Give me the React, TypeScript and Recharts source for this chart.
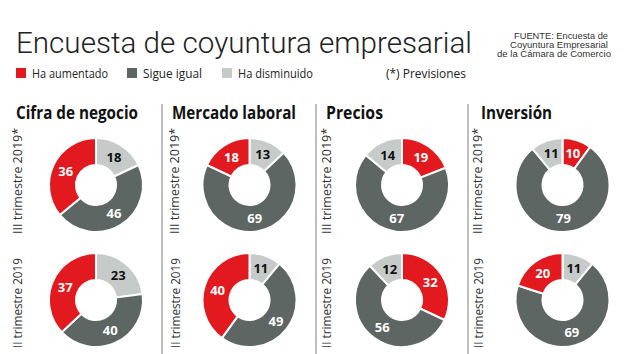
import { PieChart, Pie, Cell } from "recharts";

// Categories
const segments = ["Ha aumentado", "Sigue igual", "Ha disminuido"];
const columns = ["Cifra de negocio", "Mercado laboral", "Precios", "Inversión"];
const rows = ["III trimestre 2019*", "II trimestre 2019"];

// III trimestre 2019* (previsiones)
const aumentadoQ3 = [36, 18, 19, 10];
const igualQ3 = [46, 69, 67, 79];
const disminuidoQ3 = [18, 13, 14, 11];
// red slice starts at 12 o'clock?
const redFirstQ3 = [false, false, true, true];

// II trimestre 2019
const aumentadoQ2 = [37, 40, 32, 20];
const igualQ2 = [40, 49, 56, 69];
const disminuidoQ2 = [23, 11, 12, 11];
const redFirstQ2 = [false, false, true, false];

const COLORS: Record<string, string> = {
	"Ha aumentado": "#e2191e",
	"Sigue igual": "#5e6664",
	"Ha disminuido": "#c6cbc9",
};
const LABEL_COLORS: Record<string, string> = {
	"Ha aumentado": "#ffffff",
	"Sigue igual": "#ffffff",
	"Ha disminuido": "#111111",
};

const COL_X = [96, 249.5, 402, 562.5];
const ROW_Y = [185, 300];
const INNER = 20;
const OUTER = 47;
const RADIAN = Math.PI / 180;

type Slice = { name: string; value: number };

function buildSlices(up: number, same: number, down: number, redFirst: boolean): Slice[] {
	const red = { name: segments[0], value: up };
	const dark = { name: segments[1], value: same };
	const light = { name: segments[2], value: down };
	return redFirst ? [red, dark, light] : [light, dark, red];
}

const donuts = [0, 1].flatMap((r) =>
	columns.map((_, c) => ({
		key: `${r}-${c}`,
		cx: COL_X[c],
		cy: ROW_Y[r],
		data:
			r === 0
				? buildSlices(aumentadoQ3[c], igualQ3[c], disminuidoQ3[c], redFirstQ3[c])
				: buildSlices(aumentadoQ2[c], igualQ2[c], disminuidoQ2[c], redFirstQ2[c]),
	})),
);

function renderLabel(props: any) {
	const { cx, cy, midAngle, innerRadius, outerRadius, value, name } = props;
	const r = (innerRadius + outerRadius) / 2;
	const x = cx + r * Math.cos(-midAngle * RADIAN);
	const y = cy + r * Math.sin(-midAngle * RADIAN);
	return (
		<text
			x={x}
			y={y}
			textAnchor="middle"
			dominantBaseline="central"
			fill={LABEL_COLORS[name] ?? "#fff"}
			fontSize={13}
			fontWeight={700}
			fontFamily="'Open Sans', sans-serif"
		>
			{value}
		</text>
	);
}

const legendItems = [
	{ x: 16, tx: 32, len: 76 },
	{ x: 127, tx: 143, len: 59 },
	{ x: 222, tx: 238, len: 75 },
];
const titleX = [16, 172, 326, 481];
const titleLen = [122, 124, 57, 71];
const rowLabelX = [[18, 175, 327, 478], [18, 176, 327, 479]];
const rowLabelY = [181, 303];
const rowLabelLen = [106, 90];
const separators = [162, 316, 468];

export default function App() {
	return (
		<div
			style={{
				position: "absolute",
				left: 0,
				top: 0,
				width: 624,
				height: 354,
				background: "#fff",
				overflow: "hidden",
			}}
		>
			<PieChart width={624} height={354} margin={{ top: 0, right: 0, bottom: 0, left: 0 }}>
				{donuts.map((d) => (
					<Pie
						key={d.key}
						data={d.data}
						dataKey="value"
						nameKey="name"
						cx={d.cx}
						cy={d.cy}
						innerRadius={INNER}
						outerRadius={OUTER}
						startAngle={90}
						endAngle={-270}
						stroke="#ffffff"
						strokeWidth={2}
						label={renderLabel}
						labelLine={false}
						isAnimationActive={false}
					>
						{d.data.map((s) => (
							<Cell key={s.name} fill={COLORS[s.name]} />
						))}
					</Pie>
				))}
			</PieChart>

			<svg
				width={624}
				height={354}
				style={{ position: "absolute", left: 0, top: 0, pointerEvents: "none" }}
				fontFamily="'Open Sans', sans-serif"
			>
				<text
					x={16}
					y={53}
					fontSize={30}
					fontWeight={300}
					fontFamily="Roboto, sans-serif"
					fill="#222"
					textLength={456}
					lengthAdjust="spacingAndGlyphs"
				>
					Encuesta de coyuntura empresarial
				</text>

				{/* source */}
				<g fontSize={9} fill="#333" fontFamily="'Liberation Sans', Arial, sans-serif" textAnchor="end">
					<text x={608} y={39} textLength={94} lengthAdjust="spacingAndGlyphs">
						FUENTE: Encuesta de
					</text>
					<text x={608} y={48} textLength={98} lengthAdjust="spacingAndGlyphs">
						Coyuntura Empresarial
					</text>
					<text x={611} y={57} textLength={114} lengthAdjust="spacingAndGlyphs">
						de la Cámara de Comercio
					</text>
				</g>

				{/* legend */}
				{segments.map((s, i) => (
					<g key={s}>
						<rect x={legendItems[i].x} y={68} width={10} height={10} fill={COLORS[s]} />
						<text
							x={legendItems[i].tx}
							y={78}
							fontSize={13}
							fill="#222"
							textLength={legendItems[i].len}
							lengthAdjust="spacingAndGlyphs"
						>
							{s}
						</text>
					</g>
				))}
				<text x={386} y={78} fontSize={13} fill="#222" textLength={80} lengthAdjust="spacingAndGlyphs">
					(*) Previsiones
				</text>

				{/* separators */}
				{separators.map((x) => (
					<line key={x} x1={x} x2={x} y1={104} y2={354} stroke="#a9a9a9" strokeWidth={1.5} />
				))}

				{/* column titles */}
				{columns.map((c, i) => (
					<text
						key={c}
						x={titleX[i]}
						y={119}
						fontSize={17}
						fontWeight={700}
						fill="#111"
						textLength={titleLen[i]}
						lengthAdjust="spacingAndGlyphs"
					>
						{c}
					</text>
				))}

				{/* row labels, rotated */}
				{rows.map((r, ri) =>
					columns.map((_, ci) => (
						<text
							key={`${r}-${ci}`}
							x={0}
							y={0}
							transform={`translate(${rowLabelX[ri][ci] + 4}, ${rowLabelY[ri]}) rotate(-90)`}
							textAnchor="middle"
							fontSize={13}
							fill="#333"
							textLength={rowLabelLen[ri]}
							lengthAdjust="spacingAndGlyphs"
						>
							{r}
						</text>
					)),
				)}
			</svg>
		</div>
	);
}
